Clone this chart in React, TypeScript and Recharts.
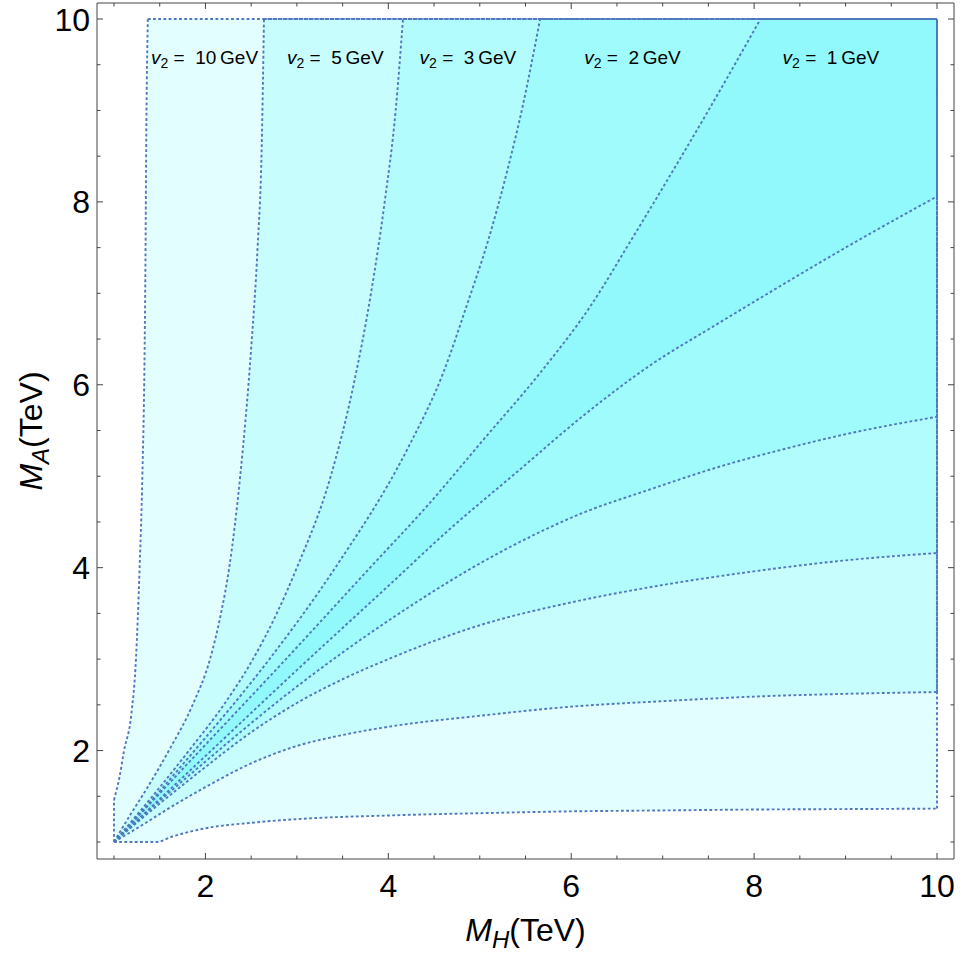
import React from "react";
import { ComposedChart, Area, Line, Scatter, XAxis, YAxis } from "recharts";

type Pt = { x: number; y: number };

// contour boundaries (TeV), below the diagonal: M_A as a function of M_H
const lowerV10: Pt[] = [
  { x: 1, y: 1 }, { x: 1.46, y: 1 }, { x: 1.64, y: 1.06 }, { x: 2, y: 1.15 }, { x: 2.5, y: 1.21 },
  { x: 3, y: 1.25 }, { x: 4, y: 1.29 }, { x: 5, y: 1.315 }, { x: 6, y: 1.335 }, { x: 7, y: 1.345 },
  { x: 8, y: 1.355 }, { x: 9, y: 1.36 }, { x: 10, y: 1.365 },
];
const lowerV5: Pt[] = [
  { x: 1, y: 1 }, { x: 1.3, y: 1.18 }, { x: 1.57, y: 1.35 }, { x: 2, y: 1.6 }, { x: 2.5, y: 1.86 },
  { x: 3, y: 2.05 }, { x: 3.5, y: 2.17 }, { x: 4, y: 2.26 }, { x: 5, y: 2.38 }, { x: 6, y: 2.48 },
  { x: 7, y: 2.54 }, { x: 8, y: 2.59 }, { x: 9, y: 2.62 }, { x: 10, y: 2.64 },
];
const lowerV3: Pt[] = [
  { x: 1, y: 1 }, { x: 1.5, y: 1.42 }, { x: 2, y: 1.82 }, { x: 2.5, y: 2.2 }, { x: 3, y: 2.52 },
  { x: 3.5, y: 2.78 }, { x: 4, y: 3.0 }, { x: 5, y: 3.37 }, { x: 6, y: 3.62 }, { x: 7, y: 3.81 },
  { x: 8, y: 3.96 }, { x: 9, y: 4.08 }, { x: 10, y: 4.16 },
];
const lowerV2: Pt[] = [
  { x: 1, y: 1 }, { x: 1.5, y: 1.45 }, { x: 2, y: 1.88 }, { x: 3, y: 2.7 }, { x: 4, y: 3.42 },
  { x: 5.31, y: 4.215 }, { x: 6.13, y: 4.6 }, { x: 6.86, y: 4.855 }, { x: 7.59, y: 5.095 },
  { x: 8.32, y: 5.295 }, { x: 9.05, y: 5.47 }, { x: 10, y: 5.65 },
];
const lowerV1: Pt[] = [
  { x: 1, y: 1 }, { x: 1.5, y: 1.47 }, { x: 2, y: 1.94 }, { x: 3, y: 2.88 }, { x: 4, y: 3.8 },
  { x: 4.67, y: 4.42 }, { x: 5.4, y: 5.04 }, { x: 6.13, y: 5.66 }, { x: 6.86, y: 6.21 },
  { x: 7.59, y: 6.66 }, { x: 8.07, y: 6.95 }, { x: 9, y: 7.5 }, { x: 10, y: 8.06 },
];

// above the diagonal, up to where each contour meets the top edge
const upperV10: Pt[] = [
  { x: 1, y: 1.46 }, { x: 1.06, y: 1.71 }, { x: 1.11, y: 2.0 }, { x: 1.19, y: 2.4 }, { x: 1.24, y: 3 },
  { x: 1.28, y: 4 }, { x: 1.31, y: 5 }, { x: 1.335, y: 6.4 }, { x: 1.345, y: 7.5 }, { x: 1.352, y: 8.6 },
  { x: 1.37, y: 10 },
];
const upperV5: Pt[] = [
  { x: 1, y: 1 }, { x: 1.18, y: 1.3 }, { x: 1.35, y: 1.57 }, { x: 1.6, y: 2 }, { x: 1.86, y: 2.5 },
  { x: 2.05, y: 3 }, { x: 2.17, y: 3.5 }, { x: 2.26, y: 4 }, { x: 2.38, y: 5 }, { x: 2.5, y: 6.4 },
  { x: 2.57, y: 7.5 }, { x: 2.615, y: 8.6 }, { x: 2.64, y: 10 },
];
const upperV3: Pt[] = [
  { x: 1, y: 1 }, { x: 1.42, y: 1.5 }, { x: 1.82, y: 2 }, { x: 2.2, y: 2.5 }, { x: 2.52, y: 3 },
  { x: 2.78, y: 3.5 }, { x: 3, y: 4 }, { x: 3.37, y: 5 }, { x: 3.62, y: 6 }, { x: 3.81, y: 7 },
  { x: 3.96, y: 8 }, { x: 4.08, y: 9 }, { x: 4.16, y: 10 },
];
const upperV2: Pt[] = [
  { x: 1, y: 1 }, { x: 1.45, y: 1.5 }, { x: 1.88, y: 2 }, { x: 2.7, y: 3 }, { x: 3.42, y: 4 },
  { x: 4.215, y: 5.31 }, { x: 4.6, y: 6.13 }, { x: 4.855, y: 6.86 }, { x: 5.095, y: 7.59 },
  { x: 5.295, y: 8.32 }, { x: 5.47, y: 9.05 }, { x: 5.66, y: 10 },
];
const upperV1: Pt[] = [
  { x: 1, y: 1 }, { x: 1.47, y: 1.5 }, { x: 1.94, y: 2 }, { x: 2.88, y: 3 }, { x: 3.8, y: 4 },
  { x: 4.42, y: 4.67 }, { x: 5.04, y: 5.4 }, { x: 5.66, y: 6.13 }, { x: 6.21, y: 6.86 },
  { x: 6.66, y: 7.59 }, { x: 6.95, y: 8.07 }, { x: 7.5, y: 9 }, { x: 8.07, y: 10 },
];

const v2Values = ["10", "5", "3", "2", "1"];
const labelX = [1.99, 3.42, 4.87, 6.67, 8.84];
const labelY = 9.58;

const frameTicks = [1, 1.5, 2, 2.5, 3, 3.5, 4, 4.5, 5, 5.5, 6, 6.5, 7, 7.5, 8, 8.5, 9, 9.5, 10];
const majorTicks = [2, 4, 6, 8, 10];

const TOP = 10;
const RIGHT = 10;
// padded so that 1 and 10 fall on whole pixels
const X_DOMAIN: [number, number] = [0.814095, 10.185905];
const Y_DOMAIN: [number, number] = [0.814095, 10.17497];

const regionColors = ["#e2fefe", "#c8fdfe", "#b2fcfd", "#a0fbfc", "#91f9fb"];
const STROKE = "#5079bd";
const FRAME = "#444";
const FONT = "'Liberation Sans', Arial, sans-serif";

const lowers = [lowerV10, lowerV5, lowerV3, lowerV2, lowerV1];
const uppers = [upperV10, upperV5, upperV3, upperV2, upperV1];

const labelData = labelX.map((x, i) => ({ x, y: labelY, v: v2Values[i] }));
const topEdges = uppers.map((u) => [{ x: u[u.length - 1].x, y: TOP }, { x: RIGHT, y: TOP }]);
const rightEdges = lowers.map((l) => [{ x: RIGHT, y: l[l.length - 1].y }, { x: RIGHT, y: TOP }]);
const leftStub = [{ x: lowerV10[0].x, y: lowerV10[0].y }, { x: upperV10[0].x, y: upperV10[0].y }];

const tickLen = (v: number) => (majorTicks.includes(v) ? 6 : 3.5);

function BottomTick({ x, y, payload }: any) {
  const v = payload.value;
  return (
    <g>
      <line x1={x} y1={y} x2={x} y2={y - tickLen(v)} stroke={FRAME} />
      {majorTicks.includes(v) && (
        <text x={x} y={y + 38} textAnchor="middle" fontSize={32} fontFamily={FONT} fill="#000">
          {v}
        </text>
      )}
    </g>
  );
}

function TopTick({ x, y, payload }: any) {
  return <line x1={x} y1={y} x2={x} y2={y + tickLen(payload.value)} stroke={FRAME} />;
}

function LeftTick({ x, y, payload }: any) {
  const v = payload.value;
  return (
    <g>
      <line x1={x} y1={y} x2={x + tickLen(v)} y2={y} stroke={FRAME} />
      {majorTicks.includes(v) && (
        <text x={x - 7} y={y + 11.5} textAnchor="end" fontSize={32} fontFamily={FONT} fill="#000">
          {v}
        </text>
      )}
    </g>
  );
}

function RightTick({ x, y, payload }: any) {
  return <line x1={x} y1={y} x2={x - tickLen(payload.value)} y2={y} stroke={FRAME} />;
}

const renderXTitle = ({ viewBox }: any) => (
  <text x={viewBox.x + viewBox.width / 2} y={viewBox.y + 82} textAnchor="middle" fontFamily={FONT} fontSize={32} fill="#000">
    <tspan fontStyle="italic">M</tspan>
    <tspan fontStyle="italic" fontSize={24} dy={7}>H</tspan>
    <tspan dy={-7}>(TeV)</tspan>
  </text>
);

const renderYTitle = ({ viewBox }: any) => (
  <text
    transform={`translate(42, ${viewBox.y + viewBox.height / 2}) rotate(-90)`}
    textAnchor="middle"
    fontFamily={FONT}
    fontSize={32}
    fill="#000"
  >
    <tspan fontStyle="italic">M</tspan>
    <tspan fontStyle="italic" fontSize={24} dy={7}>A</tspan>
    <tspan dy={-7}>(TeV)</tspan>
  </text>
);

function RegionLabel({ cx, cy, payload }: any) {
  return (
    <text x={cx} y={cy + 7} textAnchor="middle" fontFamily={FONT} fontSize={19} fill="#000">
      <tspan fontStyle="italic">v</tspan>
      <tspan fontSize={14} dy={4}>2</tspan>
      <tspan dy={-4}>{`\u00a0=\u00a0\u00a0${payload.v}\u2009GeV`}</tspan>
    </text>
  );
}

const lineProps = {
  xAxisId: "b",
  yAxisId: "l",
  dataKey: "y",
  stroke: STROKE,
  strokeWidth: 1.9,
  strokeDasharray: "2.8 2.4",
  dot: false,
  activeDot: false,
  isAnimationActive: false,
};

export default function App() {
  return (
    <div style={{ position: "absolute", left: 0, top: 0, width: 961, height: 957, background: "#fff" }}>
      <ComposedChart width={961} height={957} margin={{ top: 2, right: 6, bottom: 0, left: 0 }}>
        <XAxis
          xAxisId="b"
          type="number"
          dataKey="x"
          domain={X_DOMAIN}
          allowDataOverflow
          ticks={frameTicks}
          interval={0}
          height={98}
          tickSize={0}
          tickMargin={0}
          tickLine={false}
          tick={<BottomTick />}
          axisLine={{ stroke: FRAME }}
          label={{ content: renderXTitle }}
        />
        <XAxis
          xAxisId="t"
          orientation="top"
          type="number"
          dataKey="x"
          domain={X_DOMAIN}
          allowDataOverflow
          ticks={frameTicks}
          interval={0}
          height={1}
          tickSize={0}
          tickMargin={0}
          tickLine={false}
          tick={<TopTick />}
          axisLine={{ stroke: FRAME }}
        />
        <YAxis
          yAxisId="l"
          type="number"
          dataKey="y"
          domain={Y_DOMAIN}
          allowDataOverflow
          ticks={frameTicks}
          interval={0}
          width={97}
          tickSize={0}
          tickMargin={0}
          tickLine={false}
          tick={<LeftTick />}
          axisLine={{ stroke: FRAME }}
          label={{ content: renderYTitle }}
        />
        <YAxis
          yAxisId="r"
          orientation="right"
          type="number"
          dataKey="y"
          domain={Y_DOMAIN}
          allowDataOverflow
          ticks={frameTicks}
          interval={0}
          width={1}
          tickSize={0}
          tickMargin={0}
          tickLine={false}
          tick={<RightTick />}
          axisLine={{ stroke: FRAME }}
        />

        {/* everything above each lower contour, outer to inner */}
        {lowers.map((d, i) => (
          <Area
            key={`low${i}`}
            xAxisId="b"
            yAxisId="l"
            data={d}
            dataKey={(p: Pt) => [p.y, TOP]}
            type="monotone"
            fill={regionColors[i]}
            fillOpacity={1}
            stroke="none"
            dot={false}
            activeDot={false}
            isAnimationActive={false}
          />
        ))}
        {/* then cut back above each upper contour, inner to outer */}
        {[4, 3, 2, 1, 0].map((i) => (
          <Area
            key={`up${i}`}
            xAxisId="b"
            yAxisId="l"
            data={uppers[i]}
            dataKey={(p: Pt) => [p.y, TOP]}
            type="monotone"
            fill={i === 0 ? "#ffffff" : regionColors[i - 1]}
            fillOpacity={1}
            stroke="none"
            dot={false}
            activeDot={false}
            isAnimationActive={false}
          />
        ))}

        {lowers.map((d, i) => (
          <Line key={`ll${i}`} data={d} type="monotone" {...lineProps} />
        ))}
        {uppers.map((d, i) => (
          <Line key={`ul${i}`} data={d} type="monotone" {...lineProps} />
        ))}
        {topEdges.map((d, i) => (
          <Line key={`te${i}`} data={d} type="linear" {...lineProps} />
        ))}
        {rightEdges.map((d, i) => (
          <Line key={`re${i}`} data={d} type="linear" {...lineProps} />
        ))}
        <Line data={leftStub} type="linear" {...lineProps} />

        <Scatter xAxisId="b" yAxisId="l" data={labelData} dataKey="y" shape={<RegionLabel />} isAnimationActive={false} />
      </ComposedChart>
    </div>
  );
}
